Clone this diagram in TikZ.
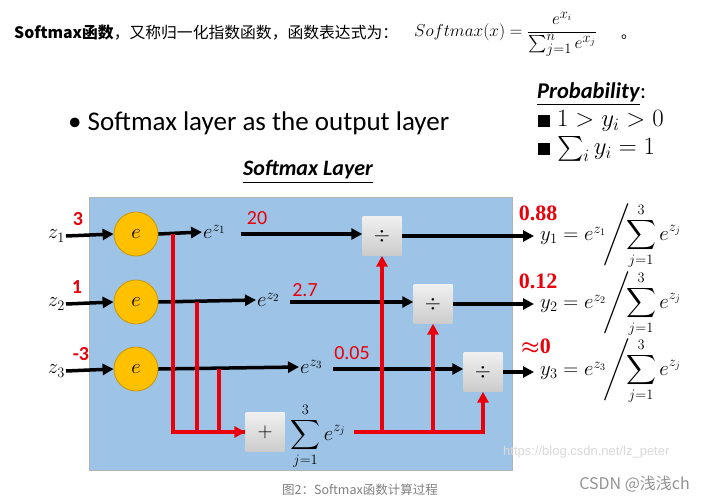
\documentclass[tikz,border=0pt]{standalone}
\usepackage{amsmath}
\usepackage{fontspec}
\usetikzlibrary{arrows.meta}
\newfontfamily\cjk{Noto Sans CJK SC}
\newfontfamily\calib{Carlito}
\newfontfamily\timesf{Liberation Serif}
\newfontfamily\arialf{Liberation Sans}
\definecolor{panelblue}{HTML}{9DC3E6}
\definecolor{circfill}{HTML}{FFC000}
\definecolor{circdraw}{HTML}{C8960A}
\definecolor{redl}{HTML}{E8000B}
\tikzset{
  blk/.style={line width=3.5pt,-{Triangle[length=11pt,width=11pt]}},
  redln/.style={redl,line width=3.5pt},
  redarr/.style={redl,line width=3.5pt,-{Triangle[length=11pt,width=11pt]}},
  circ/.style={circle,fill=circfill,draw=circdraw,line width=0.8pt,minimum size=44pt,inner sep=0pt,font=\fontsize{22}{22}\selectfont},
  gbox/.style={rectangle,top color=gray!12,bottom color=gray!40,draw=none,minimum width=39pt,minimum height=39pt,inner sep=0pt,font=\fontsize{22}{22}\selectfont},
  mlab/.style={inner sep=1pt,font=\fontsize{21}{21}\selectfont},
  rnum/.style={text=redl,font=\calib\bfseries\fontsize{20}{20}\selectfont,inner sep=0pt},
  onum/.style={text=redl,font=\timesf\bfseries\fontsize{22}{22}\selectfont,inner sep=0pt},
  outf/.style={inner sep=0pt,anchor=west,font=\fontsize{20.5}{20.5}\selectfont},
}
\begin{document}
\begin{tikzpicture}[x=1pt,y=-1pt]
\useasboundingbox[fill=white] (0,0) rectangle (703,503);
% header
\node[anchor=west,inner sep=0pt,font=\cjk\fontsize{15.8}{16}\selectfont] (hdr) at (14,33) {\textbf{Softmax函数}，又称归一化指数函数，函数表达式为：};
\node[anchor=west,inner sep=0pt,font=\fontsize{19}{19}\selectfont] (form) at (414,34) {$Softmax(x)=\dfrac{e^{x_i}}{\sum_{j=1}^{n}e^{x_j}}$};
\node[anchor=west,inner sep=0pt,font=\cjk\fontsize{15}{15}\selectfont] (dot) at (621,37) {。};
% bullet
\node[anchor=west,inner sep=0pt,font=\calib\fontsize{27}{27}\selectfont] (bul) at (68,123) {\textbullet\ Softmax layer as the output layer};
\node[inner sep=0pt,font=\calib\bfseries\itshape\fontsize{22}{22}\selectfont] (sl) at (308,172) {\underline{Softmax Layer}};
% probability
\node[anchor=west,inner sep=0pt,font=\calib\fontsize{22.5}{22}\selectfont] (prob) at (537,94) {\underline{\textbf{\itshape Probability}}:};
\node[anchor=west,inner sep=0pt,font=\fontsize{23}{23}\selectfont] (p1) at (538,121) {\rule{12pt}{12pt}\ $1>y_i>0$};
\node[anchor=west,inner sep=0pt,font=\fontsize{23}{23}\selectfont] (p2) at (538,149) {\rule{12pt}{12pt}\ $\sum_i y_i=1$};
% panel
\fill[panelblue] (89,197) rectangle (512,470);
\draw[gray!60,line width=0.6pt] (89,197) rectangle (512,470);
% circles
\node[circ] (c1) at (136,234) {$e$};
\node[circ] (c2) at (136,302) {$e$};
\node[circ] (c3) at (136,369) {$e$};
\node[mlab,anchor=east] (z1) at (66,236) {$z_1$};
\node[mlab,anchor=east] (z2) at (66,304) {$z_2$};
\node[mlab,anchor=east] (z3) at (66,371) {$z_3$};
\draw[blk] (z1.east) -- (c1.west);
\draw[blk] (z2.east) -- (c2.west);
\draw[blk] (z3.east) -- (c3.west);
\node[rnum] (n1) at (78,219) {3};
\node[rnum] (n2) at (77,287) {1};
\node[rnum] (n3) at (81,354) {-3};
% exponentials
\node[mlab,anchor=west] (e1) at (202,232) {$e^{z_1}$};
\node[mlab,anchor=west] (e2) at (256,300) {$e^{z_2}$};
\node[mlab,anchor=west] (e3) at (299,367) {$e^{z_3}$};
\draw[blk] (c1.east) -- (e1.west);
\draw[blk] (c2.east) -- (e2.west);
\draw[blk] (c3.east) -- (e3.west);
\node[rnum,font=\calib\fontsize{20}{20}\selectfont] (v1) at (257,218) {20};
\node[rnum,font=\calib\fontsize{20}{20}\selectfont] (v2) at (305,290) {2.7};
\node[rnum,font=\calib\fontsize{20}{20}\selectfont] (v3) at (352,353) {0.05};
% dividers
\node[gbox] (d1) at (382,236) {$\div$};
\node[gbox] (d2) at (433,304) {$\div$};
\node[gbox] (d3) at (483,372) {$\div$};
\coordinate (s1) at (241,234);
\coordinate (s2) at (290,302);
\coordinate (s3) at (333,369);
\draw[blk] (s1) -- (s1 -| d1.west);
\draw[blk] (s2) -- (s2 -| d2.west);
\draw[blk] (s3) -- (s3 -| d3.west);
% sum
\node[gbox] (pl) at (265,432) {$+$};
\node[inner sep=0pt,font=\fontsize{20}{20}\selectfont] (se) at (318,436) {$\displaystyle\sum_{j=1}^{3}e^{z_j}$};
\coordinate (b1) at (173,234);
\coordinate (b2) at (197,302);
\coordinate (b3) at (219,369);
\draw[redln] (b1) |- (pl.west);
\draw[redln] (b2) -- (b2 |- pl.west);
\draw[redarr] (b3) |- (pl.west);
\coordinate (r0) at (354,432);
\draw[redarr] (r0) -| (d3.south);
\draw[redarr] (d1.south |- r0) -- (d1.south);
\draw[redarr] (d2.south |- r0) -- (d2.south);
% outputs
\node[outf] (ya1) at (540,236) {$y_1=e^{z_1}$};
\node[outf] (yb1) at (ya1.east) {$\!\Bigg/\!\!\displaystyle\sum_{j=1}^{3}e^{z_j}$};
\node[outf] (ya2) at (540,304) {$y_2=e^{z_2}$};
\node[outf] (yb2) at (ya2.east) {$\!\Bigg/\!\!\displaystyle\sum_{j=1}^{3}e^{z_j}$};
\node[outf] (ya3) at (540,371) {$y_3=e^{z_3}$};
\node[outf] (yb3) at (ya3.east) {$\!\Bigg/\!\!\displaystyle\sum_{j=1}^{3}e^{z_j}$};
\draw[blk,shorten >=6pt] (d1.east) -- (d1.east -| ya1.west);
\draw[blk,shorten >=6pt] (d2.east) -- (d2.east -| ya2.west);
\draw[blk,shorten >=6pt] (d3.east) -- (d3.east -| ya3.west);
\node[onum] (o1) at (538,213) {0.88};
\node[onum] (o2) at (538,281) {0.12};
\node[onum] (o3) at (536,346) {{\boldmath$\approx$}0};
% watermark and caption
\node[anchor=west,inner sep=0pt,text=gray!30,font=\arialf\fontsize{13}{13}\selectfont] (wm) at (503,452) {https://blog.csdn.net/lz\_peter};
\node[inner sep=0pt,text=gray,font=\cjk\fontsize{12.5}{12.5}\selectfont] (cap) at (360,490) {图2：Softmax函数计算过程};
\node[anchor=east,inner sep=0pt,text=gray!85,font=\cjk\fontsize{16}{16}\selectfont] (csdn) at (690,484) {CSDN @浅浅ch};
\end{tikzpicture}
\end{document}
